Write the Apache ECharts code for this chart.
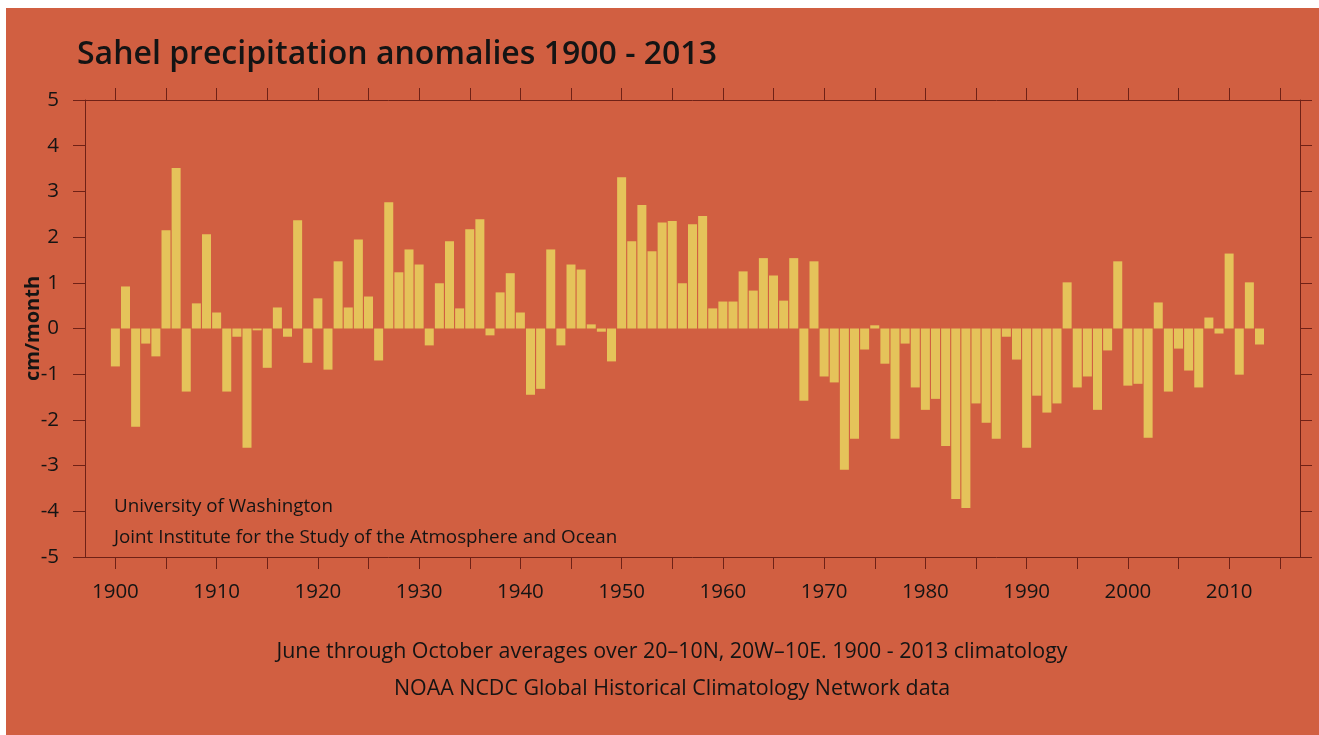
<!DOCTYPE html>
<html>
<head>
<meta charset="utf-8">
<title>Sahel precipitation anomalies</title>
<script src="https://cdn.jsdelivr.net/npm/echarts@6/dist/echarts.min.js"></script>
<style>
  html, body { margin: 0; padding: 0; background: #fff; }
  #main { position: absolute; left: 6px; top: 8px; width: 1313px; height: 727px; }
</style>
</head>
<body>
<div id="main"></div>
<script>
// years 1900 - 2013
var firstYear = 1900;
var anomalies = [
  -0.83, 0.92, -2.15, -0.33, -0.61, 2.15, 3.51, -1.38, 0.55, 2.06,   // 1900s
  0.35, -1.38, -0.18, -2.61, -0.04, -0.86, 0.46, -0.18, 2.37, -0.75, // 1910s
  0.66, -0.90, 1.47, 0.46, 1.95, 0.70, -0.70, 2.76, 1.23, 1.73,      // 1920s
  1.40, -0.37, 0.99, 1.91, 0.44, 2.17, 2.39, -0.15, 0.79, 1.21,      // 1930s
  0.35, -1.45, -1.32, 1.73, -0.37, 1.40, 1.29, 0.09, -0.07, -0.72,   // 1940s
  3.31, 1.91, 2.70, 1.69, 2.32, 2.35, 0.99, 2.28, 2.46, 0.44,        // 1950s
  0.59, 0.59, 1.25, 0.83, 1.54, 1.16, 0.61, 1.54, -1.58, 1.47,       // 1960s
  -1.05, -1.18, -3.09, -2.41, -0.46, 0.07, -0.77, -2.41, -0.33, -1.29, // 1970s
  -1.78, -1.54, -2.57, -3.73, -3.93, -1.64, -2.06, -2.41, -0.18, -0.68, // 1980s
  -2.61, -1.47, -1.84, -1.64, 1.01, -1.29, -1.05, -1.78, -0.48, 1.47,  // 1990s
  -1.25, -1.21, -2.39, 0.57, -1.38, -0.44, -0.92, -1.29, 0.24, -0.11,  // 2000s
  1.64, -1.01, 1.01, -0.35                                              // 2010s
];
var tickYears = [1900, 1905, 1910, 1915, 1920, 1925, 1930, 1935, 1940, 1945, 1950, 1955,
  1960, 1965, 1970, 1975, 1980, 1985, 1990, 1995, 2000, 2005, 2010, 2015];
var labelYears = [1900, 1910, 1920, 1930, 1940, 1950, 1960, 1970, 1980, 1990, 2000, 2010];

var bars = anomalies.map(function (v, i) { return [firstYear + i, v]; });

var lineColor = '#6f2116';
var textColor = '#141414';
var font = 'Open Sans';

var myChart = echarts.init(document.getElementById('main'));

var option = {
  backgroundColor: '#d15f41',
  animation: false,
  textStyle: { fontFamily: font },
  title: {
    text: 'Sahel precipitation anomalies 1900 - 2013',
    left: 66,
    top: 26,
    textStyle: { fontFamily: font, fontSize: 32, fontWeight: 600, color: textColor }
  },
  grid: { left: 79, right: 19, top: 92, bottom: 178, outerBoundsMode: 'none', containLabel: false },
  xAxis: [{
    type: 'value',
    position: 'bottom',
    min: 1897,
    max: 2017,
    axisLine: { show: true, onZero: false, lineStyle: { color: lineColor, width: 1 } },
    axisTick: { show: true, length: 12, customValues: tickYears, lineStyle: { color: lineColor } },
    axisLabel: {
      customValues: labelYears, margin: 25, fontSize: 20.5, color: textColor, fontFamily: font,
      formatter: function (v) { return String(v); }
    },
    splitLine: { show: false }
  }, {
    type: 'value',
    position: 'top',
    min: 1897,
    max: 2017,
    axisLine: { show: true, onZero: false, lineStyle: { color: lineColor, width: 1 } },
    axisTick: { show: true, length: 12, customValues: tickYears, lineStyle: { color: lineColor } },
    axisLabel: { show: false },
    splitLine: { show: false }
  }],
  yAxis: [{
    type: 'value',
    position: 'left',
    min: -5,
    max: 5,
    interval: 1,
    name: 'cm/month',
    nameLocation: 'middle',
    nameGap: 42,
    nameMoveOverlap: false,
    nameTextStyle: { fontFamily: font, fontSize: 20, fontWeight: 'bold', color: textColor },
    axisLine: { show: true, lineStyle: { color: lineColor, width: 1 } },
    axisTick: { show: true, length: 12, lineStyle: { color: lineColor } },
    axisLabel: { margin: 26, fontSize: 20.5, color: textColor, fontFamily: font },
    splitLine: { show: false }
  }, {
    type: 'value',
    position: 'right',
    min: -5,
    max: 5,
    interval: 1,
    axisLine: { show: true, lineStyle: { color: lineColor, width: 1 } },
    axisTick: { show: true, length: 12, lineStyle: { color: lineColor } },
    axisLabel: { show: false },
    splitLine: { show: false }
  }],
  graphic: [
    { type: 'text', left: 108, top: 489, style: { text: 'University of Washington', font: '18.8px "Open Sans"', fill: textColor } },
    { type: 'text', left: 108, top: 520, style: { text: 'Joint Institute for the Study of the Atmosphere and Ocean', font: '18.8px "Open Sans"', fill: textColor } },
    { type: 'text', x: 666, y: 644, style: { text: 'June through October averages over 20\u201310N, 20W\u201310E. 1900 - 2013 climatology', font: '21.4px "Open Sans"', fill: textColor, align: 'center', verticalAlign: 'middle' } },
    { type: 'text', x: 666, y: 681, style: { text: 'NOAA NCDC Global Historical Climatology Network data', font: '21.4px "Open Sans"', fill: textColor, align: 'center', verticalAlign: 'middle' } }
  ],
  series: [{
    type: 'bar',
    xAxisIndex: 0,
    yAxisIndex: 0,
    barWidth: 9,
    itemStyle: { color: '#e5c35a' },
    data: bars
  }]
};

myChart.setOption(option);
</script>
</body>
</html>
